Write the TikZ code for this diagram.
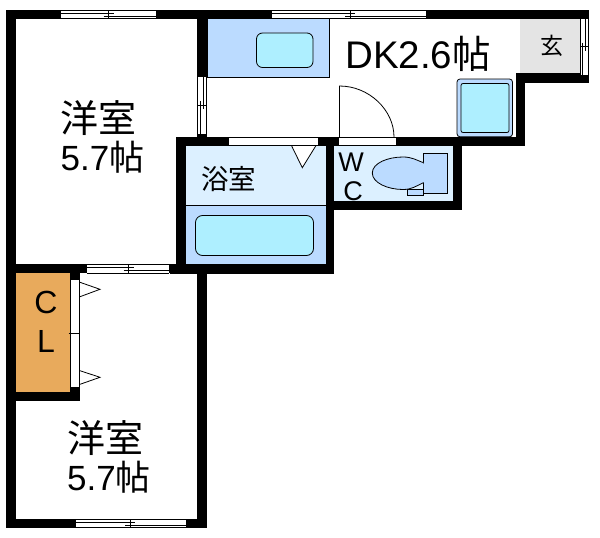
\documentclass[tikz,border=0pt]{standalone}
\usepackage{fontspec}
\setmainfont{Liberation Sans}
\newfontfamily\cjk{Noto Sans CJK JP}
\definecolor{fixture}{HTML}{BBDBFF}
\definecolor{basin}{HTML}{AEEFFF}
\definecolor{wetroom}{HTML}{DCF0FF}
\definecolor{entry}{HTML}{E4E4E4}
\definecolor{closet}{HTML}{E8AA5C}
\tikzset{
  wall/.style={fill=black,draw=none},
  thin line/.style={draw=black,line width=0.8pt},
  fixture box/.style={thin line,fill=fixture},
  basin box/.style={thin line,fill=basin,rounded corners=6pt},
  label/.style={inner sep=0pt,outer sep=0pt,anchor=center,text=black},
  hinge/.style={thin line,fill=white},
}
\newcommand{\hwin}[5]{% x0 x1 ytop xsplit yspread
  \fill[white] (#1,#3) rectangle (#2,#3+9);
  \draw[thin line] (#1,#3+0.4) -- (#2,#3+0.4);
  \draw[thin line] (#1,#3+8.6) -- (#2,#3+8.6);
  \draw[thin line] (#1,#3+3) -- (#4+5,#3+3);
  \draw[thin line] (#4-5,#3+6) -- (#2,#3+6);
  \draw[thin line] (#4,#3+1) -- (#4,#3+8.6);
}
\newcommand{\vwin}[5]{% y0 y1 xleft ysplit unused
  \fill[white] (#3,#1) rectangle (#3+9.6,#2);
  \draw[thin line] (#3+0.4,#1) -- (#3+0.4,#2);
  \draw[thin line] (#3+9.2,#1) -- (#3+9.2,#2);
  \draw[thin line] (#3+6,#1) -- (#3+6,#4+4);
  \draw[thin line] (#3+3,#4-4) -- (#3+3,#2);
  \draw[thin line] (#3+1,#4) -- (#3+9.2,#4);
}
\begin{document}
\begin{tikzpicture}[x=1pt,y=-1pt]
\useasboundingbox (0,0) rectangle (600,538);
\fill[white] (0,0) rectangle (600,538);
% room fills
\fill[entry] (520,18.5) rectangle (580,73);
\fill[wetroom] (186,146) rectangle (325.5,205.5);
\fill[fixture] (186,205.5) rectangle (325.5,264);
\draw[thin line] (186,205.4) -- (325.5,205.4);
\fill[wetroom] (334,146) rectangle (452.5,201);
\fill[closet] (16,273) rectangle (70,392);
% counter
\draw[fixture box] (207,18.5) rectangle (329.8,77);
\draw[basin box] (256.5,33) rectangle (313,67.5);
% kitchen unit
\draw[fixture box,rounded corners=3pt] (457,79) rectangle (512.5,136.8);
\draw[basin box,rounded corners=2pt] (461,83.5) rectangle (509,132.5);
% bathtub
\draw[basin box,rounded corners=7pt] (195.5,215.5) rectangle (313.5,255.5);
% toilet
\draw[fixture box] (423.5,153.3) rectangle (447,193.3);
\draw[fixture box] (407.5,189.5) rectangle (423,195.5);
\draw[fixture box] (423.5,162.7) .. controls (416,160) and (412,157) .. (403,157)
  .. controls (388,157) and (372.3,163) .. (372.3,173)
  .. controls (372.3,183) and (388,189.5) .. (403,189.5)
  .. controls (412,189.5) and (416,186) .. (423.5,182.7);
\fill[fixture] (421.5,163.6) rectangle (425,181.8);
% walls
\fill[wall] (6,10) rectangle (589,18.5);
\fill[wall] (6,10) rectangle (16,528);
\fill[wall] (6,519) rectangle (207,528);
\fill[wall] (197,264) rectangle (207,528);
\fill[wall] (197,18.5) rectangle (207,77);
\fill[wall] (197,133) rectangle (207,137);
\fill[wall] (176,137) rectangle (525,146);
\fill[wall] (176,137) rectangle (186,273);
\fill[wall] (6,264) rectangle (207,273.4);
\fill[wall] (170,264) rectangle (334,273.8);
\fill[wall] (325.5,146) rectangle (334,273.8);
\fill[wall] (326,201) rectangle (462,209.5);
\fill[wall] (452.5,146) rectangle (462,209.5);
\fill[wall] (516,73) rectangle (525,146);
\fill[wall] (516,73) rectangle (589,82.7);
\fill[wall] (6,392) rectangle (80,401);
\fill[wall] (70,273) rectangle (80,280);
\fill[wall] (70,387) rectangle (80,392);
% windows
\hwin{60.7}{155.7}{10}{108.5}{0}
\hwin{272}{426}{10}{350}{0}
\hwin{87}{168.5}{264.4}{128.7}{0}
\hwin{75.5}{186}{519}{130.3}{0}
\vwin{77}{133.5}{197}{105}{0}
\vwin{18.5}{75}{579.5}{46.7}{0}
% bath window and door opening
\fill[white] (229,137.3) rectangle (318,145.7);
\draw[thin line] (229,137.4) -- (318,137.4);
\draw[thin line] (229,145.6) -- (318,145.6);
\fill[white] (339,137.3) rectangle (396,145.7);
\draw[thin line] (339,137.4) -- (396,137.4);
\draw[thin line] (339,145.6) -- (396,145.6);
% doors
\draw[thin line] (339.5,137) -- (339.5,86) .. controls (369,86) and (394,110) .. (394,137);
\draw[hinge] (291.7,146) -- (302.3,167.7) -- (315.7,146);
% closet doors
\fill[white] (70,280) rectangle (79.6,387);
\draw[thin line] (79.6,280) -- (79.6,387);
\draw[thin line] (70.2,280) -- (70.2,387);
\draw[thin line] (68.5,333.3) -- (79.6,333.3);
\draw[thin line] (80,282.3) -- (100,289.3) -- (80,296.7);
\draw[thin line] (80,370.7) -- (100,377.3) -- (80,384.3);
% labels
\node[label,font=\cjk\fontsize{38}{38}\selectfont] (roomA) at (98.5,118) {洋室};
\node[label,font=\fontsize{35}{35}\selectfont] (sizeA) at (102.5,157) {5.7{\cjk 帖}};
\node[label,font=\cjk\fontsize{38}{38}\selectfont] (roomB) at (105,438) {洋室};
\node[label,font=\fontsize{35}{35}\selectfont] (sizeB) at (109,477) {5.7{\cjk 帖}};
\node[label,font=\fontsize{38.5}{38.5}\selectfont] (dk) at (418,54) {DK2.6{\cjk 帖}};
\node[label,font=\cjk\fontsize{27.5}{27.5}\selectfont] (bath) at (228.5,179) {浴室};
\node[label,font=\cjk\fontsize{23}{23}\selectfont] (genkan) at (551.5,46) {玄};
\node[label,font=\fontsize{27}{27}\selectfont] (wcW) at (351,162) {W};
\node[label,font=\fontsize{27}{27}\selectfont] (wcC) at (353,191) {C};
\node[label,font=\fontsize{32}{32}\selectfont] (clC) at (46,302) {C};
\node[label,font=\fontsize{32}{32}\selectfont] (clL) at (46,341) {L};
\end{tikzpicture}
\end{document}
